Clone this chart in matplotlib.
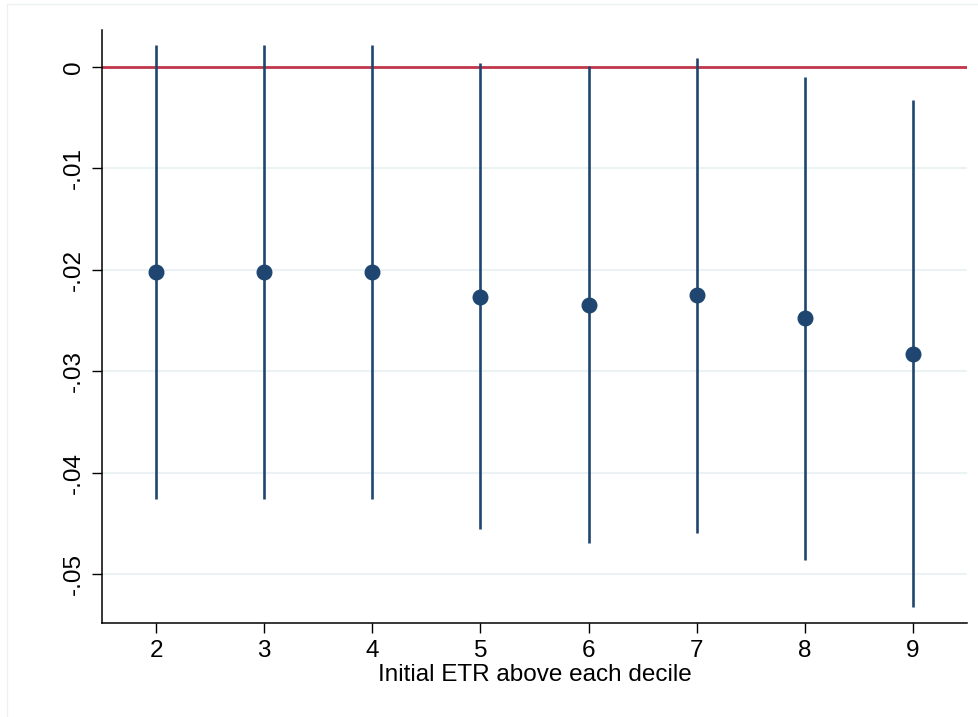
import numpy as np
import matplotlib
matplotlib.use("Agg")
import matplotlib.pyplot as plt
from matplotlib.lines import Line2D

plt.rcParams['font.family'] = ['Liberation Sans', 'DejaVu Sans']

# Decile thresholds and estimated coefficients with 95% CIs
deciles = [2, 3, 4, 5, 6, 7, 8, 9]
coef = [-0.0202, -0.0202, -0.0202, -0.02263, -0.02343, -0.02247, -0.02474, -0.02825]
ci_low = [-0.04256, -0.04256, -0.04256, -0.04555, -0.04693, -0.04588, -0.04857, -0.05323]
ci_high = [0.00217, 0.00217, 0.00217, 0.00036, 0.0001, 0.00086, -0.00099, -0.00325]
yticks = [0, -0.01, -0.02, -0.03, -0.04, -0.05]
ytick_labels = ["0", "-.01", "-.02", "-.03", "-.04", "-.05"]

navy = "#1f4670"
red = "#c0364a"

fig = plt.figure(figsize=(9.79, 7.17), dpi=100)
ax = fig.add_axes([0.1042, 0.1311, 0.8835, 0.8271])

for y in yticks:
    ax.axhline(y, color="#eaf2f3", lw=1.5, zorder=0)
ax.axhline(0, color=red, lw=2, zorder=1)

ax.vlines(deciles, ci_low, ci_high, color=navy, lw=1.9, zorder=2)
ax.plot(deciles, coef, "o", color=navy, markersize=10.5, zorder=3)

ax.set_xlim(1.5, 9.5)
ax.set_ylim(-0.05478, 0.003645)
ax.set_xticks(deciles)
ax.set_yticks(yticks)
ax.set_yticklabels(ytick_labels, rotation=90, va="center")
ax.tick_params(axis="both", direction="out", length=7, width=1, labelsize=17.5, pad=5)
ax.set_xlabel("Initial ETR above each decile", fontsize=17.5, labelpad=2)

for s in ["top", "right"]:
    ax.spines[s].set_visible(False)
for s in ["left", "bottom"]:
    ax.spines[s].set_linewidth(1.1)

# faint outer frame of the original graph region
fig.add_artist(Line2D([7 / 979, 7 / 979], [0, 1 - 4 / 717], transform=fig.transFigure,
                      color="#eef1f2", lw=1))
fig.add_artist(Line2D([7 / 979, 1], [1 - 4 / 717, 1 - 4 / 717], transform=fig.transFigure,
                      color="#eef1f2", lw=1))

fig.savefig("out.png", dpi=100)
